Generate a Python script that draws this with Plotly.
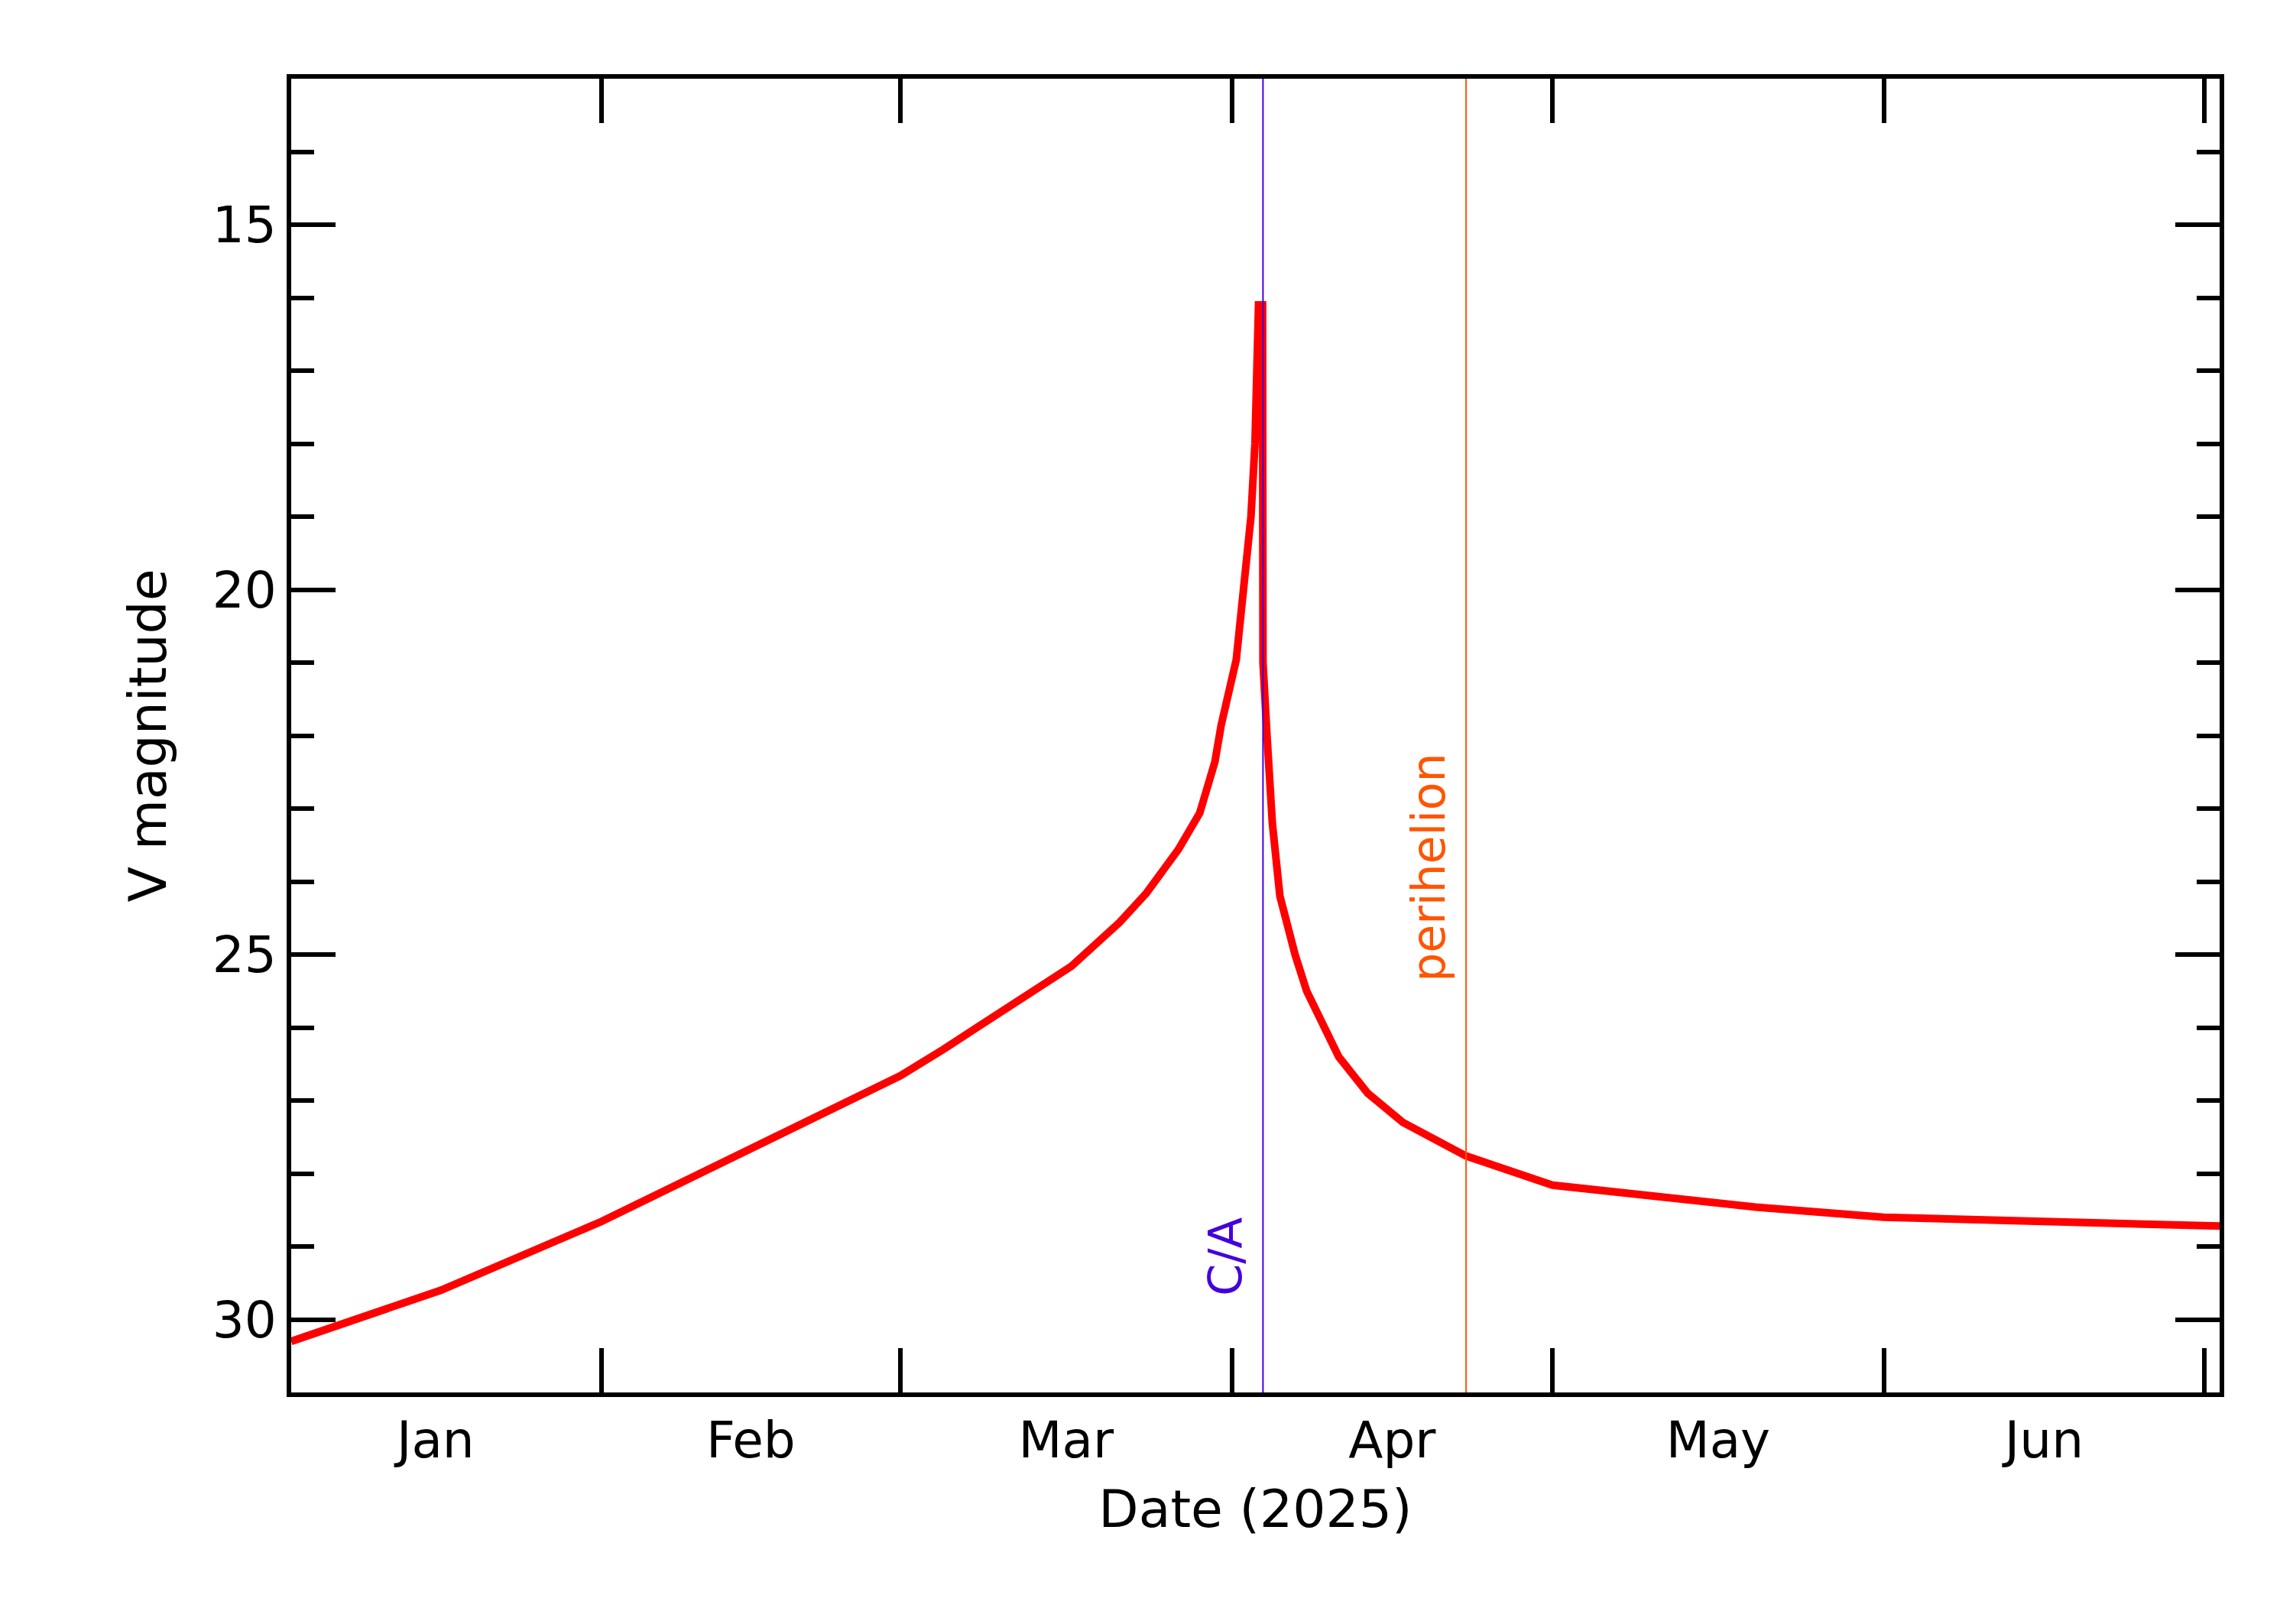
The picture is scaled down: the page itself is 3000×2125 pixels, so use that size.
import plotly.graph_objects as go

dates = ["2025-01-03","2025-01-17","2025-02-01","2025-02-13","2025-03-01","2025-03-05","2025-03-13",
         "2025-03-17","2025-03-21 12:00","2025-03-24","2025-03-27","2025-03-29","2025-03-30 10:00",
         "2025-03-31","2025-04-01 10:00","2025-04-02","2025-04-02 19:00","2025-04-03 04:00",
         "2025-04-03 12:00","2025-04-03 21:00","2025-04-03 22:00","2025-04-04 07:00","2025-04-04 19:00",
         "2025-04-05 12:00","2025-04-06 22:00","2025-04-08","2025-04-09 14:00","2025-04-11",
         "2025-04-13 17:00","2025-04-17","2025-04-22 22:00","2025-05-01","2025-05-20",
         "2025-06-01","2025-07-02 10:00"]
vmag = [30.3,29.6,28.66,27.8,26.66,26.3,25.56,25.16,24.56,24.16,23.56,23.06,22.36,
        21.86,20.96,20.16,19.0,18.0,16.1,16.1,21.0,22.0,23.2,24.2,25.0,25.5,26.0,26.4,
        26.9,27.3,27.76,28.16,28.46,28.6,28.72]
ca_date = "2025-04-03 22:00"
peri_date = "2025-04-22 22:00"

font = "DejaVu Sans"
fig = go.Figure()
fig.add_trace(go.Scatter(x=dates, y=vmag, mode="lines", line=dict(color="red", width=10, shape="linear")))
fig.add_shape(type="line", x0=ca_date, x1=ca_date, y0=0, y1=1, yref="paper", line=dict(color="#4400dd", width=2))
fig.add_shape(type="line", x0=peri_date, x1=peri_date, y0=0, y1=1, yref="paper", line=dict(color="#ff5500", width=2))
fig.add_annotation(x=ca_date, y=29.7, text="C/A", textangle=-90, showarrow=False, xanchor="right", yanchor="bottom",
                   xshift=-12, font=dict(family=font, size=60, color="#4400dd"))
fig.add_annotation(x=peri_date, y=25.4, text="perihelion", textangle=-90, showarrow=False, xanchor="right", yanchor="bottom",
                   xshift=-12, font=dict(family=font, size=60, color="#ff5500"))

axis_common = dict(showline=True, linecolor="black", linewidth=6, mirror="allticks", ticks="inside",
                   tickcolor="black", tickwidth=6, showgrid=False, zeroline=False,
                   tickfont=dict(family=font, size=66, color="black"))
fig.update_xaxes(type="date", range=["2025-01-03", "2025-07-02 10:00"], dtick="M1", tick0="2025-01-01",
                 ticklabelmode="period", tickformat="%b", ticklen=58,
                 title=dict(text="Date (2025)", font=dict(family=font, size=68, color="black"), standoff=30),
                 **axis_common)
fig.update_yaxes(range=[31, 13], tickvals=[15, 20, 25, 30], ticklen=58,
                 minor=dict(dtick=1, tick0=0, ticks="inside", ticklen=30, tickwidth=6, tickcolor="black"),
                 title=dict(text="V magnitude", font=dict(family=font, size=68, color="black"), standoff=40),
                 **axis_common)
fig.update_layout(width=3000, height=2125, margin=dict(l=373, r=104, t=95, b=311),
                  plot_bgcolor="white", paper_bgcolor="white", showlegend=False)
fig.write_html("out.html")
